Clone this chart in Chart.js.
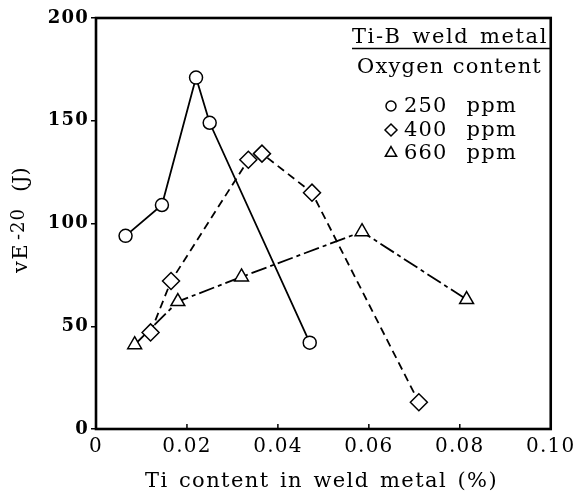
<!DOCTYPE html>
<html><head><meta charset="utf-8">
<script src="https://cdn.jsdelivr.net/npm/chart.js@4"></script>
<style>html,body{margin:0;padding:0;background:#fff}canvas{display:block}</style>
</head><body>
<canvas id="c" width="579" height="491"></canvas>
<script>
// ---- data ----
const ti250 = [0.0065, 0.0145, 0.022, 0.025, 0.047];
const ve250 = [94, 109, 171, 149, 42];
const ti400 = [0.012, 0.0165, 0.0335, 0.0365, 0.0475, 0.071];
const ve400 = [47, 72, 131, 134, 115, 13];
const ti660 = [0.0085, 0.018, 0.032, 0.0585, 0.0815];
const ve660 = [41, 62, 74, 96, 63];
const seriesLabels = ['250 ppm', '400 ppm', '660 ppm'];
const xTickLabels = ['0', '0.02', '0.04', '0.06', '0.08', '0.10'];
const yTickLabels = ['0', '50', '100', '150', '200'];
const xTitle = 'Ti content in weld metal (%)';
const yTitleMain = 'vE', yTitleSub = '-20', yTitleUnit = '(J)';
const legendTitle1 = 'Ti-B weld metal', legendTitle2 = 'Oxygen content';

const FONT = "'DejaVu Serif', 'Liberation Serif', serif";
const pts = (xs, ys) => xs.map((x, i) => ({x: x, y: ys[i]}));

// draws words of a line between left and left+w, spreading leftover space into the word gaps
function fitWords(ctx, text, left, base, w, ls) {
  const words = text.split(/\s+/);
  ctx.letterSpacing = ls + 'px';
  ctx.textAlign = 'left';
  ctx.textBaseline = 'alphabetic';
  const ws = words.map(s => ctx.measureText(s).width);
  const total = ws.reduce((a, b) => a + b, 0);
  const gap = words.length > 1 ? (w - total) / (words.length - 1) : 0;
  let x = left;
  words.forEach((s, i) => { ctx.fillText(s, x, base); x += ws[i] + gap; });
  ctx.letterSpacing = '0px';
}

const deco = {
  id: 'deco',
  beforeDraw(chart) { chart.ctx.letterSpacing = '1.2px'; },
  afterDraw(chart) {
    const {ctx, chartArea: a, scales: {x}} = chart;
    ctx.save();
    ctx.letterSpacing = '0px';
    ctx.strokeStyle = '#000';
    ctx.fillStyle = '#000';
    // frame
    ctx.lineWidth = 2.6;
    ctx.strokeRect(a.left, a.top, a.right - a.left, a.bottom - a.top);
    // inward x ticks
    ctx.lineWidth = 1.5;
    x.ticks.forEach(t => {
      const px = x.getPixelForValue(t.value);
      ctx.beginPath(); ctx.moveTo(px, a.bottom); ctx.lineTo(px, a.bottom - 5); ctx.stroke();
    });
    // x title
    ctx.font = '21px ' + FONT;
    fitWords(ctx, xTitle, 145, 487, 353, 1.4);
    // y title (rotated)
    ctx.save();
    ctx.translate(27, 273);
    ctx.rotate(-Math.PI / 2);
    ctx.font = '21px ' + FONT;
    fitWords(ctx, yTitleMain, 0, 0, 30, 1.5);
    ctx.font = '18px ' + FONT;
    fitWords(ctx, yTitleSub, 33, -3, 30, 1);
    ctx.font = '21px ' + FONT;
    fitWords(ctx, yTitleUnit, 81, 0, 22, 0);
    ctx.restore();
    // legend block
    ctx.font = '21px ' + FONT;
    fitWords(ctx, legendTitle1, 352, 43, 196, 1.6);
    ctx.lineWidth = 1.6;
    ctx.beginPath(); ctx.moveTo(352, 48.5); ctx.lineTo(551, 48.5); ctx.stroke();
    fitWords(ctx, legendTitle2, 357, 73, 185, 1.2);
    const bases = [112, 136, 159];
    const sizes = [5, 6, 6.5];
    ctx.font = '21px ' + FONT;
    chart.data.datasets.slice().sort((p, q) => p.legendIndex - q.legendIndex).forEach((ds, i) => {
      ctx.lineWidth = 1.5;
      ctx.strokeStyle = '#000';
      ctx.fillStyle = '#fff';
      Chart.helpers.drawPoint(ctx, {pointStyle: ds.pointStyle, radius: sizes[i], borderWidth: 1.5, rotation: 0}, 391, bases[i] - 6);
      ctx.fillStyle = '#000';
      fitWords(ctx, ds.label, 404, bases[i], 113, 1.2);
    });
    ctx.restore();
  }
};

new Chart(document.getElementById('c'), {
  type: 'scatter',
  data: {
    datasets: [
      {label: seriesLabels[2], legendIndex: 2, data: pts(ti660, ve660), showLine: true, order: 3,
       borderColor: '#000', borderWidth: 1.8, borderDash: [16, 4, 4, 4],
       pointStyle: 'triangle', pointRadius: 8, pointBorderWidth: 1.5,
       pointBackgroundColor: '#fff', pointBorderColor: '#000'},
      {label: seriesLabels[1], legendIndex: 1, data: pts(ti400, ve400), showLine: true, order: 2,
       borderColor: '#000', borderWidth: 1.8, borderDash: [8, 5],
       pointStyle: 'rectRot', pointRadius: 8.5, pointBorderWidth: 1.5,
       pointBackgroundColor: '#fff', pointBorderColor: '#000'},
      {label: seriesLabels[0], legendIndex: 0, data: pts(ti250, ve250), showLine: true, order: 1,
       borderColor: '#000', borderWidth: 1.8,
       pointStyle: 'circle', pointRadius: 6.5, pointBorderWidth: 1.5,
       pointBackgroundColor: '#fff', pointBorderColor: '#000'}
    ]
  },
  options: {
    responsive: false,
    animation: false,
    devicePixelRatio: 1,
    layout: {padding: {left: 0, top: 18, right: 25, bottom: 0}},
    plugins: {legend: {display: false}, tooltip: {enabled: false}},
    scales: {
      x: {
        type: 'linear', min: 0, max: 0.1,
        afterFit: s => { s.height = 62; },
        border: {display: false},
        grid: {drawOnChartArea: false, drawTicks: false},
        ticks: {stepSize: 0.02, padding: 6, color: '#000', maxRotation: 0,
                font: {family: FONT, size: 20},
                callback: (v, i) => xTickLabels[i]}
      },
      y: {
        type: 'linear', min: 0, max: 200,
        afterFit: s => { s.width = 96; },
        border: {display: false},
        grid: {drawOnChartArea: false, drawTicks: true, tickLength: 5, color: '#000', lineWidth: 1.5},
        ticks: {stepSize: 50, padding: 2, color: '#000',
                font: {family: FONT, size: 18, weight: 'bold'},
                callback: (v, i) => yTickLabels[i]}
      }
    }
  },
  plugins: [deco]
});
</script>
</body></html>
